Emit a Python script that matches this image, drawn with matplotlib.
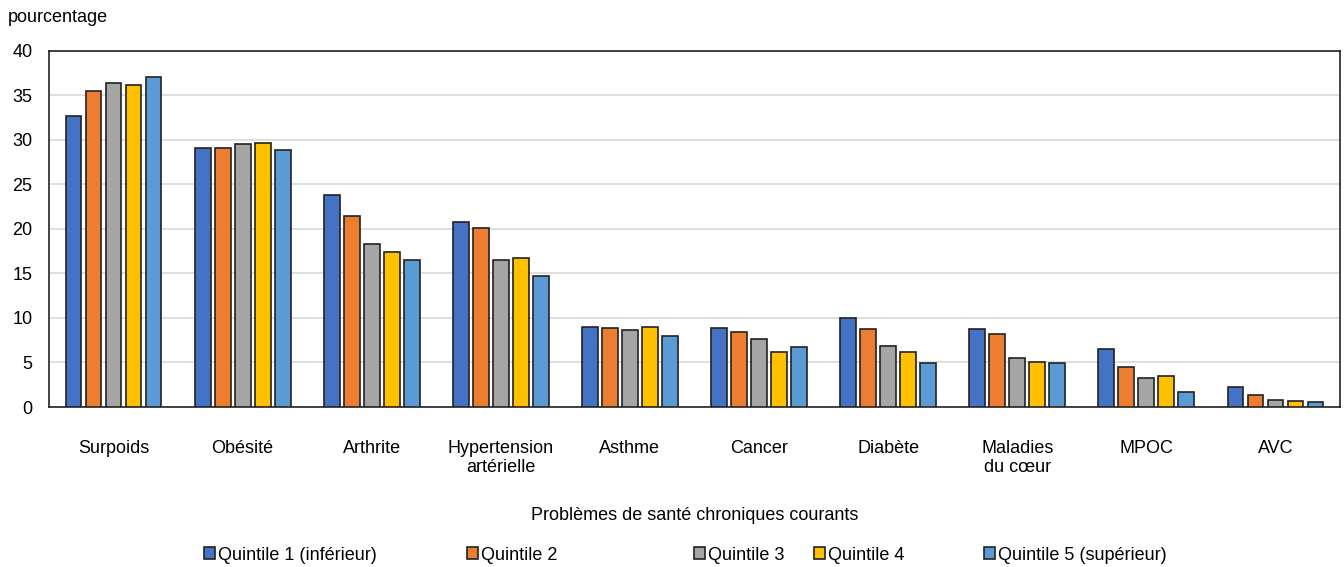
import matplotlib.pyplot as plt
import numpy as np

plt.rcParams['font.family'] = ['Liberation Sans', 'DejaVu Sans']

categories = ["Surpoids", "Obésité", "Arthrite", "Hypertension\nartérielle", "Asthme",
              "Cancer", "Diabète", "Maladies\ndu cœur", "MPOC", "AVC"]
series_names = ["Quintile 1 (inférieur)", "Quintile 2", "Quintile 3", "Quintile 4",
                "Quintile 5 (supérieur)"]
q1 = [32.7, 29.1, 23.8, 20.8, 9.0, 8.9, 10.0, 8.7, 6.5, 2.2]
q2 = [35.5, 29.1, 21.4, 20.1, 8.9, 8.4, 8.7, 8.2, 4.5, 1.4]
q3 = [36.3, 29.5, 18.3, 16.5, 8.6, 7.6, 6.8, 5.5, 3.3, 0.8]
q4 = [36.1, 29.6, 17.4, 16.7, 9.0, 6.2, 6.2, 5.0, 3.5, 0.7]
q5 = [37.0, 28.8, 16.5, 14.7, 8.0, 6.7, 4.9, 4.9, 1.7, 0.6]
colors = ["#4472C4", "#ED7D31", "#A5A5A5", "#FFC000", "#5B9BD5"]

fig = plt.figure(figsize=(13.44, 5.67), dpi=100)
ax = fig.add_axes([49/1344, 1 - 407/567, (1340 - 49)/1344, (407 - 50.5)/567])

x = np.arange(len(categories))
step = 0.155
width = 0.122
bars = []
for i, vals in enumerate([q1, q2, q3, q4, q5]):
    b = ax.bar(x + (i - 2) * step, vals, width, color=colors[i], edgecolor="#222222",
               linewidth=1.2, label=series_names[i], zorder=3)
    bars.append(b)

ax.set_xlim(-0.5, len(categories) - 0.5)
ax.set_ylim(0, 40)
ax.set_yticks(range(0, 41, 5))
ax.set_xticks(x)
ax.set_xticklabels(categories, fontsize=13)
ax.tick_params(axis='both', length=0, labelsize=13)
ax.tick_params(axis='x', pad=23.5)
ax.tick_params(axis='y', pad=12)
ax.grid(axis='y', color="#d9d9d9", linewidth=1.2, zorder=0)
for s in ax.spines.values():
    s.set_color("#222222")
    s.set_linewidth(1.2)

fig.text(8/1344, 1 - 17/567, "pourcentage", fontsize=13, va='center', ha='left')
fig.text(0.5 * (49 + 1340) / 1344, 1 - 515/567, "Problèmes de santé chroniques courants",
         fontsize=13, ha='center', va='center')

# legend entries placed like the original
leg_x = [204, 467, 694, 814, 984]
for i in range(5):
    leg = fig.legend([bars[i]], [series_names[i]], loc='center left',
                     bbox_to_anchor=(leg_x[i]/1344, 1 - 555/567), frameon=False,
                     fontsize=13, handlelength=0.6, handleheight=0.6, handletextpad=0.15,
                     borderaxespad=0, borderpad=0)

fig.savefig("out.png", dpi=100)
